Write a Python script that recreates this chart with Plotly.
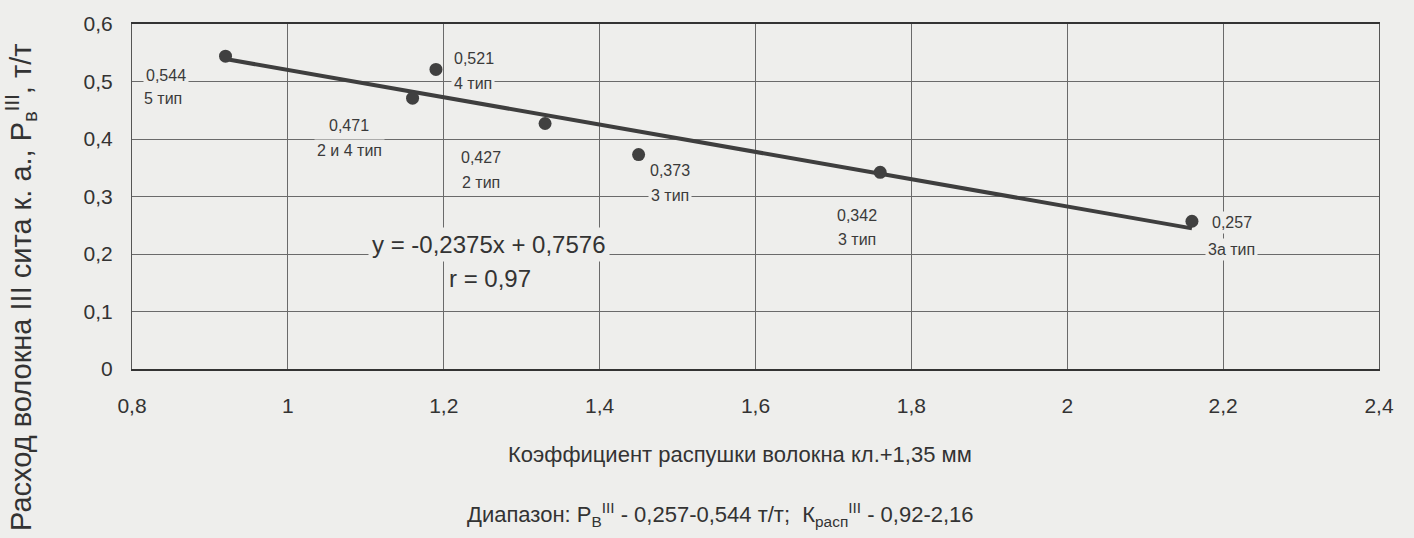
import plotly.graph_objects as go

# ---- data ----
k_rasp = [0.92, 1.16, 1.19, 1.33, 1.45, 1.76, 2.16]
p_v = [0.544, 0.471, 0.521, 0.427, 0.373, 0.342, 0.257]
value_labels = ["0,544", "0,471", "0,521", "0,427", "0,373", "0,342", "0,257"]
type_labels = ["5 тип", "2 и 4 тип", "4 тип", "2 тип", "3 тип", "3 тип", "3а тип"]
trend_slope = -0.2375
trend_intercept = 0.7576
x_ticks = [0.8, 1.0, 1.2, 1.4, 1.6, 1.8, 2.0, 2.2, 2.4]
x_tick_text = ["0,8", "1", "1,2", "1,4", "1,6", "1,8", "2", "2,2", "2,4"]
y_ticks = [0, 0.1, 0.2, 0.3, 0.4, 0.5, 0.6]
y_tick_text = ["0", "0,1", "0,2", "0,3", "0,4", "0,5", "0,6"]

# ---- layout geometry ----
W, H = 1414, 538
L, R, T, B = 132, 1379, 20, 369
BG = "#eeeeec"
FONT = "Liberation Sans, Arial, sans-serif"

def pxx(px):
    return (px - L) / (R - L)

def pxy(py):
    return (B - py) / (B - T)

# label offsets (pixels) relative to each point: (value dx, value dy, type dx, type dy)
label_offsets = [
    (-60, -19, -63, -42),
    (-64, -27, -63, -52),
    (38, 11, 37, -14),
    (-64, -34, -64, -59),
    (31, -16, 31, -41),
    (-23, -43, -23, -67),
    (40, -1, 40, -28),
]

fig = go.Figure()

x0, x1 = min(k_rasp), max(k_rasp)
fig.add_trace(go.Scatter(
    x=[x0, x1],
    y=[trend_slope * x0 + trend_intercept, trend_slope * x1 + trend_intercept],
    mode="lines",
    line=dict(color="#3e3e3e", width=4),
    hoverinfo="skip",
    showlegend=False,
))
fig.add_trace(go.Scatter(
    x=k_rasp, y=p_v, mode="markers",
    marker=dict(color="#404040", size=13, line=dict(width=0)),
    showlegend=False,
))

annotations = []
for xv, yv, vl, tl, (vdx, vdy, tdx, tdy) in zip(k_rasp, p_v, value_labels, type_labels, label_offsets):
    annotations.append(dict(x=xv, y=yv, xref="x", yref="y", text=vl, showarrow=False,
                            xanchor="center", yanchor="middle",
                            xshift=vdx, yshift=vdy, bgcolor=BG, borderpad=2,
                            font=dict(family=FONT, size=16, color="#3a3a3a")))
    annotations.append(dict(x=xv, y=yv, xref="x", yref="y", text=tl, showarrow=False,
                            xanchor="center", yanchor="middle",
                            xshift=tdx, yshift=tdy, bgcolor=BG, borderpad=2,
                            font=dict(family=FONT, size=16, color="#3a3a3a")))

annotations += [
    dict(x=pxx(489), y=pxy(243), xref="paper", yref="paper", xanchor="center", yanchor="middle",
         text="y = -0,2375x + 0,7576", showarrow=False, bgcolor=BG, borderpad=3,
         font=dict(family=FONT, size=24, color="#333333")),
    dict(x=pxx(490), y=pxy(277), xref="paper", yref="paper", xanchor="center", yanchor="middle",
         text="r = 0,97", showarrow=False, bgcolor=BG, borderpad=2,
         font=dict(family=FONT, size=24, color="#333333")),
    dict(x=pxx(21), y=pxy(287), xref="paper", yref="paper", textangle=-90,
         xanchor="center", yanchor="middle",
         text="Расход волокна III сита к. а., Р<sub>в</sub><sup>III</sup>, т/т",
         showarrow=False, font=dict(family=FONT, size=29, color="#333333")),
    dict(x=pxx(740), y=pxy(455), xref="paper", yref="paper", xanchor="center", yanchor="middle",
         text="Коэффициент распушки волокна кл.+1,35 мм", showarrow=False,
         font=dict(family=FONT, size=22, color="#333333")),
    dict(x=pxx(720), y=pxy(516), xref="paper", yref="paper", xanchor="center", yanchor="middle",
         text="Диапазон: Р<sub>В</sub><sup>III</sup> - 0,257-0,544 т/т;  К<sub>расп</sub><sup>III</sup> - 0,92-2,16",
         showarrow=False, font=dict(family=FONT, size=22, color="#333333")),
]

fig.update_layout(
    width=W, height=H,
    margin=dict(l=L, r=W - R, t=T, b=H - B),
    paper_bgcolor=BG, plot_bgcolor=BG,
    showlegend=False,
    annotations=annotations,
    font=dict(family=FONT, color="#333333"),
)
fig.update_xaxes(
    range=[0.8, 2.4], tickvals=x_ticks, ticktext=x_tick_text,
    showgrid=True, gridcolor="#6a6a6a", gridwidth=1,
    showline=True, linecolor="#333333", linewidth=1.5, mirror=True,
    zeroline=False, ticks="", ticklabelstandoff=17,
    tickfont=dict(family=FONT, size=21, color="#333333"),
)
fig.update_yaxes(
    range=[0, 0.6], tickvals=y_ticks, ticktext=y_tick_text,
    showgrid=True, gridcolor="#6a6a6a", gridwidth=1,
    showline=True, linecolor="#555555", linewidth=1, mirror=True,
    zeroline=False, ticks="", ticklabelstandoff=14,
    tickfont=dict(family=FONT, size=21, color="#333333"),
)

fig.write_html(
    "out.html",
    config={"displayModeBar": False},
    post_script="document.body.style.margin='0';document.body.style.background='#eeeeec';",
)
